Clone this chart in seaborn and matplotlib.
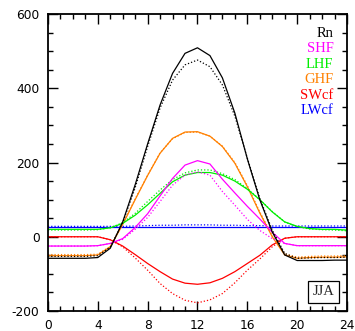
import numpy as np
import pandas as pd
import seaborn as sns
import matplotlib
matplotlib.use("Agg")
from matplotlib import pyplot as plt

# hour of day (local time)
hours = list(range(25))

# surface energy terms, solid = run 1, dotted = run 2 (W m-2)
rn_solid = [-58, -58, -58, -58, -56, -31, 40, 140, 250, 355, 440, 494, 509, 488, 428, 333, 210, 100, 13, -49, -64, -64, -64, -63, -63]
rn_dot = [-53, -53, -53, -53, -51, -28, 38, 132, 243, 347, 422, 463, 476, 458, 409, 325, 212, 103, 18, -45, -58, -57, -56, -56, -55]
shf_solid = [-25, -25, -25, -25, -24, -18, -5, 25, 62, 110, 157, 193, 205, 196, 155, 118, 82, 48, 12, -18, -24, -24, -24, -24, -24]
shf_dot = [-25, -25, -25, -25, -24, -18, -7, 20, 52, 95, 139, 166, 175, 166, 122, 85, 47, 17, -5, -18, -24, -24, -24, -24, -24]
lhf_solid = [20, 20, 20, 20, 20, 24, 36, 58, 86, 117, 148, 166, 173, 173, 166, 150, 128, 100, 67, 40, 28, 22, 20, 20, 18]
lhf_dot = [18, 18, 18, 18, 19, 24, 38, 63, 95, 126, 154, 172, 180, 180, 170, 154, 130, 100, 68, 40, 27, 21, 19, 18, 16]
ghf_solid = [-51, -51, -51, -51, -49, -27, 33, 100, 165, 225, 265, 282, 283, 271, 243, 198, 135, 64, 0, -49, -58, -56, -55, -55, -54]
ghf_dot = [-48, -48, -48, -48, -47, -26, 35, 102, 166, 226, 264, 281, 282, 271, 244, 200, 138, 67, 3, -46, -55, -53, -52, -52, -51]
swcf_solid = [0, 0, 0, 0, 0, -8, -25, -48, -72, -94, -114, -125, -128, -124, -112, -94, -72, -50, -22, -4, 0, 0, 0, 0, 0]
swcf_dot = [0, 0, 0, 0, 0, -8, -27, -57, -90, -126, -153, -171, -178, -170, -153, -124, -90, -60, -27, -4, 0, 0, 0, 0, 0]
lwcf_solid = [25, 25, 25, 25, 25, 25, 25, 25, 25, 25, 25, 25, 25, 25, 25, 25, 25, 25, 25, 25, 25, 25, 25, 25, 25]
lwcf_dot = [28, 28, 28, 28, 28, 28, 28, 29, 30, 31, 31, 32, 32, 32, 31, 31, 30, 30, 29, 29, 29, 29, 29, 29, 29]

names = ["Rn", "SHF", "LHF", "GHF", "SWcf", "LWcf"]
colors = ["black", "magenta", "#00ee00", "#ff8000", "red", "blue"]
season = "JJA"

series = {
    "Rn": (rn_solid, rn_dot),
    "SHF": (shf_solid, shf_dot),
    "LHF": (lhf_solid, lhf_dot),
    "GHF": (ghf_solid, ghf_dot),
    "SWcf": (swcf_solid, swcf_dot),
    "LWcf": (lwcf_solid, lwcf_dot),
}

rows = []
for name, (sol, dot) in series.items():
    for h, a, b in zip(hours, sol, dot):
        rows.append({"hour": h, "var": name, "run": "solid", "flux": a})
        rows.append({"hour": h, "var": name, "run": "dotted", "flux": b})
df = pd.DataFrame(rows)

sns.set_style("ticks")
plt.rcParams["font.family"] = ["DejaVu Sans"]
plt.rcParams["axes.unicode_minus"] = False

fig = plt.figure(figsize=(3.55, 3.31), dpi=100)
ax = fig.add_axes([0.135, 0.0604, 0.8425, 0.8973])

sns.lineplot(data=df, x="hour", y="flux", hue="var", style="run",
             hue_order=names[::-1], palette=dict(zip(names, colors)),
             dashes={"solid": "", "dotted": (1, 1.6)}, linewidth=0.9,
             legend=False, ax=ax)

ax.set_xlim(0, 24)
ax.set_ylim(-200, 600)
ax.set_xticks(range(0, 25, 4))
ax.set_xticks(range(0, 25, 1), minor=True)
ax.set_yticks(range(-200, 601, 200))
ax.set_yticks(range(-200, 601, 50), minor=True)
ax.set_xlabel("")
ax.set_ylabel("")
ax.tick_params(which="both", direction="in", top=True, right=True, width=1.0, labelsize=8.8, colors="black")
ax.tick_params(which="major", length=7, pad=6)
ax.tick_params(which="minor", length=3.6)
for s in ax.spines.values():
    s.set_linewidth(1.3)
    s.set_color("black")

for i, (name, c) in enumerate(zip(names, colors)):
    ax.text(0.955, 0.935 - i * 0.052, name, transform=ax.transAxes, ha="right", va="center",
            color=c, fontsize=10.5, family="Liberation Serif")

ax.text(0.922, 0.064, season, transform=ax.transAxes, ha="center", va="center",
        fontsize=10.5, family="Liberation Serif",
        bbox=dict(boxstyle="square,pad=0.3", facecolor="white", edgecolor="black", linewidth=0.9))

fig.savefig("out.png", dpi=100)
